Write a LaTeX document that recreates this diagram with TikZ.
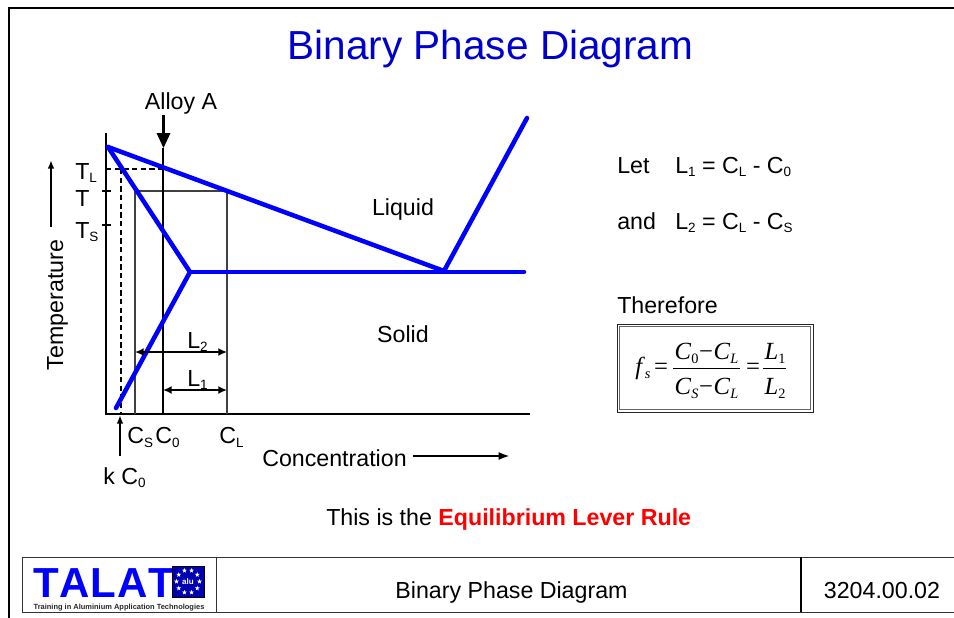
\documentclass[tikz,border=0pt]{standalone}
\usepackage{fontspec}
\setmainfont{Liberation Sans}
\newfontfamily\tms{Liberation Serif}
\usetikzlibrary{arrows.meta,shapes.geometric}
\definecolor{talatblue}{RGB}{0,0,255}
\definecolor{titleblue}{RGB}{0,0,204}
\newcommand{\sbs}[1]{\raisebox{-.16em}{\scalebox{.58}{#1}}}
\newcommand{\fsub}[1]{\raisebox{-.2em}{\scalebox{.58}{#1}}}
\tikzset{
  txt/.style={font=\fontsize{17.4}{20}\selectfont,inner sep=0pt,text=black},
  lbl/.style={txt,anchor=base west},
  ctr/.style={txt,anchor=base},
  blueline/.style={draw=talatblue,line width=3.4pt,line cap=round,line join=round},
  axis/.style={draw=black,line width=1.2pt},
  thinline/.style={draw=black!75,line width=.8pt},
  dash1/.style={draw=black,line width=1.4pt,dash pattern=on 4pt off 2.5pt},
  dbl/.style={draw=black,line width=1.3pt,{Latex[length=6.5pt,width=6pt]}-{Latex[length=6.5pt,width=6pt]}},
  sarrow/.style={draw=black,line width=1.3pt,-{Latex[length=6.5pt,width=5pt]}},
  fm/.style={font=\fontsize{18.5}{20}\selectfont\tms,inner sep=0pt,anchor=base},
  tbl/.style={draw=black!80,line width=.7pt},
  flagstar/.style={star,star points=5,star point ratio=2.4,fill=white,inner sep=0pt,minimum size=3.8pt},
}
\begin{document}
\begin{tikzpicture}[x=.75pt,y=-.75pt]
\useasboundingbox (0,0) rectangle (954,618);
% frame
\draw[black,line width=1.4pt] (9,618) -- (9,8) -- (954,8);
% title
\node[font=\fontsize{30.4}{34}\selectfont,text=titleblue,inner sep=0pt,anchor=base] (title) at (490.5,59) {Binary Phase Diagram};
% axes
\draw[axis] (106,133) -- (106,414) -- (530,414);
% thin construction lines
\draw[thinline] (135,414) -- (135,191) -- (227,191) -- (227,414);
\draw[draw=black,line width=1.5pt] (163,148) -- (163,414);
\draw[dash1] (106,169) -- (163,169);
\draw[dash1] (121,169) -- (121,414);
% ticks
\draw[axis] (102,191) -- (111,191);
\draw[axis] (102,225) -- (111,225);
% blue lines
\draw[blueline] (108,147) -- (444,271) -- (527,118);
\draw[blueline] (108,147) -- (190,272) -- (116,408);
\draw[blueline] (190,272) -- (524,272);
% alloy arrow
\draw[draw=black,line width=2.4pt] (163.5,115) -- (163.5,136);
\fill[black] (156.5,133) -- (170.5,133) -- (163.5,148) -- cycle;
\node[ctr] (alloy) at (181,109) {Alloy A};
% temperature
\draw[sarrow] (51,227) -- (51,160);
\node[txt,rotate=90,anchor=base] (temp) at (63,305) {Temperature};
% T labels
\node[lbl] (tl) at (75,179) {T\sbs{L}};
\node[lbl] (tt) at (75,206) {T};
\node[lbl] (ts) at (75,238) {T\sbs{S}};
% L arrows
\draw[dbl] (135,352) -- (227,352);
\draw[dbl] (163,390) -- (227,390);
\node[lbl] (l2) at (187,348) {L\sbs{2}};
\node[lbl] (l1) at (187,386) {L\sbs{1}};
% axis labels
\node[lbl] (cs) at (127,443.5) {C\sbs{S}};
\node[lbl] (c0) at (155,443.5) {C\sbs{0}};
\node[lbl] (cl) at (219,443.5) {C\sbs{L}};
\draw[sarrow] (120,456) -- (120,415);
\node[lbl] (kc) at (103,484) {k C\sbs{0}};
\node[lbl] (conc) at (262,466) {Concentration};
\draw[draw=black,line width=1.7pt,-{Latex[length=8.5pt,width=6pt]}] (413,456) -- (510,456);
% regions
\node[ctr] (liq) at (403,215) {Liquid};
\node[ctr] (sol) at (403,342) {Solid};
% equations
\node[lbl] (let) at (617,173) {Let};
\node[lbl] (eq1) at (675,173) {L\sbs{1} = C\sbs{L} - C\sbs{0}};
\node[lbl] (and) at (617,229) {and};
\node[lbl] (eq2) at (675,229) {L\sbs{2} = C\sbs{L} - C\sbs{S}};
\node[lbl] (there) at (617,313) {Therefore};
% formula box
\draw[draw=black!85,line width=.6pt] (617,324) rectangle (813,412);
\draw[draw=black!60,line width=.4pt] (619.4,326.4) rectangle (810.6,409.6);
\node[fm,anchor=base west] (fs) at (635,374) {\textit{f}\fsub{\textit{s}}};
\node[fm] (e1) at (661,374) {=};
\node[fm] (num) at (706.5,359) {\textit{C}\fsub{0}\kern.5pt−\kern.5pt\textit{C}\fsub{\textit{L}}};
\node[fm] (den) at (706.5,394) {\textit{C}\fsub{\textit{S}}\kern.5pt−\kern.5pt\textit{C}\fsub{\textit{L}}};
\node[fm] (e2) at (753,374) {=};
\node[fm] (n2) at (775,359) {\textit{L}\fsub{1}};
\node[fm] (d2) at (775,394) {\textit{L}\fsub{2}};
\draw[draw=black,line width=.75pt] (673,368) -- (740,368);
\draw[draw=black,line width=.75pt] (763,368) -- (786,368);
% lever rule
\node[lbl] (lever) at (326,525) {This is the \textcolor{red}{\bfseries Equilibrium Lever Rule}};
% footer table
\draw[tbl] (22,557) -- (954,557);
\draw[tbl] (22,612) -- (954,612);
\draw[tbl] (22,557) -- (22,612);
\draw[tbl] (216,557) -- (216,612);
\draw[draw=black,line width=1pt] (801,557) -- (801,612);
\node[ctr] (foot) at (511.5,598) {Binary Phase Diagram};
\node[ctr] (code) at (882,598) {3204.00.02};
% logo
\node[font=\fontsize{31.5}{34}\selectfont\bfseries,text=talatblue,inner sep=0pt,anchor=base west] (talat) at (33,597) {T\kern.6pt A\kern.6pt L\kern.4pt A\kern.6pt T};
\node[font=\fontsize{5.6}{6}\selectfont\bfseries,text=black!85,inner sep=0pt,anchor=base] (train) at (119,609) {Training in Aluminium Application Technologies};
\fill[talatblue!70!black] (172,566) rectangle (204,597);
\draw[draw=black,line width=.5pt] (172,566) rectangle (204,597);
\foreach \a in {0,36,...,324}{
  \node[flagstar] at ({188+11.5*cos(\a)},{581.5+11.5*sin(\a)}) {};
}
\node[font=\fontsize{6}{7}\selectfont\bfseries,text=white,inner sep=0pt] (alu) at (188,582) {alu};
\end{tikzpicture}
\end{document}
